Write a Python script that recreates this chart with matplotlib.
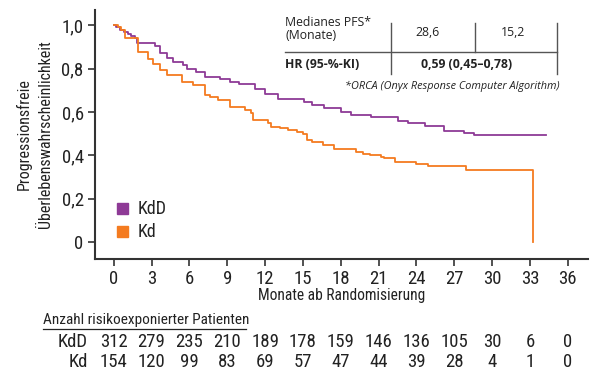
import matplotlib
matplotlib.use("Agg")
import matplotlib.pyplot as plt
from matplotlib.lines import Line2D
from matplotlib.patches import Rectangle

plt.rcParams['font.family'] = ['Roboto Condensed', 'Roboto', 'DejaVu Sans']

# KM-Daten
kdd_t = [0, 0.2, 0.5, 0.8, 1.1, 1.4, 1.7, 1.85, 3.25, 3.65, 4.2, 4.7, 5.5, 5.8, 6.55, 7.2, 8.4,
         9.2, 9.9, 11.2, 12.0, 13.0, 15.1, 15.7, 16.7, 18.05, 18.85, 20.4, 22.5, 23.3, 24.7,
         26.2, 27.8, 28.6, 34.3]
kdd_s = [1.0, 0.99, 0.98, 0.97, 0.96, 0.95, 0.94, 0.92, 0.905, 0.87, 0.85, 0.83, 0.816, 0.80,
         0.785, 0.762, 0.754, 0.739, 0.731, 0.708, 0.685, 0.662, 0.647, 0.631, 0.616, 0.60,
         0.585, 0.575, 0.559, 0.547, 0.535, 0.513, 0.505, 0.493, 0.493]
kd_t = [0, 0.3, 0.6, 0.87, 1.9, 2.7, 3.1, 3.65, 4.2, 5.4, 6.3, 7.2, 7.6, 8.3, 9.2, 10.4, 10.9,
        11.05, 12.2, 12.5, 13.2, 13.8, 14.5, 15.0, 15.3, 15.7, 16.6, 17.5, 19.2, 19.8, 20.3,
        21.2, 21.4, 22.3, 24.0, 24.9, 27.9, 33.25, 33.25]
kd_s = [1.0, 0.99, 0.977, 0.94, 0.877, 0.846, 0.823, 0.793, 0.77, 0.739, 0.724, 0.677, 0.67,
        0.654, 0.623, 0.608, 0.593, 0.562, 0.547, 0.531, 0.524, 0.516, 0.508, 0.50, 0.47,
        0.462, 0.447, 0.427, 0.416, 0.408, 0.40, 0.393, 0.386, 0.37, 0.359, 0.35, 0.332,
        0.332, 0.0]

months = [0, 3, 6, 9, 12, 15, 18, 21, 24, 27, 30, 33, 36]
risk_kdd = [312, 279, 235, 210, 189, 178, 159, 146, 136, 105, 30, 6, 0]
risk_kd = [154, 120, 99, 83, 69, 57, 47, 44, 39, 28, 4, 1, 0]
yticks = [0, 0.2, 0.4, 0.6, 0.8, 1.0]
ytick_labels = ["0", "0,2", "0,4", "0,6", "0,8", "1,0"]

purple = "#8E3A96"
orange = "#F47B20"
dark = "#333333"
txt = "#222222"
fs = 13.5

fig = plt.figure(figsize=(6, 3.79), dpi=100)
ax = fig.add_axes([0.158, 0.3166, 0.822, 0.657])

ax.step(kdd_t, kdd_s, where="post", color=purple, lw=1.3)
ax.step(kd_t, kd_s, where="post", color=orange, lw=1.3)

ax.set_xlim(-1.5, 37.6)
ax.set_ylim(-0.078, 1.07)
ax.set_xticks(months)
ax.set_xticklabels([str(m) for m in months], fontsize=fs)
ax.set_yticks(yticks)
ax.set_yticklabels(ytick_labels, fontsize=fs)
for s in ["top", "right"]:
    ax.spines[s].set_visible(False)
for s in ["left", "bottom"]:
    ax.spines[s].set_color(dark)
    ax.spines[s].set_linewidth(1.5)
ax.tick_params(direction="out", length=5, width=1.2, color=dark, labelcolor=txt, pad=3)
ax.set_xlabel("Monate ab Randomisierung", fontsize=11.2, color=txt, labelpad=0)
ax.set_ylabel("Progressionsfreie\nÜberlebenswahrscheinlichkeit", fontsize=11.5,
              color=txt, linespacing=1.55, labelpad=6)

# Legende
for i, (lab, c) in enumerate([("KdD", purple), ("Kd", orange)]):
    ax.add_patch(Rectangle((0.045, 0.18 - i * 0.09), 0.022, 0.044, transform=ax.transAxes,
                           color=c, clip_on=False))
    ax.text(0.087, 0.2 - i * 0.09, lab, transform=ax.transAxes, fontsize=13,
            va="center", color=txt)

# Tabelle oben rechts
tf = ['Open Sans', 'DejaVu Sans']
fig.text(285 / 600, 1 - 29 / 379, "Medianes PFS*\n(Monate)", fontsize=8.8, family=tf,
         va="center", ha="left", linespacing=0.95, color=txt)
fig.text(428 / 600, 1 - 32 / 379, "28,6", fontsize=8.8, family=tf, ha="center",
         va="center", color=txt)
fig.text(513 / 600, 1 - 32 / 379, "15,2", fontsize=8.8, family=tf, ha="center",
         va="center", color=txt)
fig.text(285 / 600, 1 - 65 / 379, "HR (95-%-KI)", fontsize=8.8, family=tf, weight="bold",
         va="center", ha="left", color=txt)
fig.text(467 / 600, 1 - 65 / 379, "0,59 (0,45–0,78)", fontsize=8.8, family=tf,
         weight="bold", ha="center", va="center", color=txt)
fig.text(560 / 600, 1 - 86 / 379, "*ORCA (Onyx Response Computer Algorithm)", fontsize=7.8,
         family=tf, style="italic", ha="right", va="center", color=txt)
fig.add_artist(Line2D([285 / 600, 557 / 600], [1 - 52 / 379] * 2, color="#555555", lw=1))
for xp, y0, y1 in [(391, 23, 74), (475, 23, 52), (557, 23, 74)]:
    fig.add_artist(Line2D([xp / 600] * 2, [1 - y0 / 379, 1 - y1 / 379], color="#555555", lw=1))

# Risikotabelle
fig.text(43 / 600, 1 - 320 / 379, "Anzahl risikoexponierter Patienten", fontsize=11,
         va="center", ha="left", color=txt)
fig.add_artist(Line2D([43 / 600, 246 / 600], [1 - 329 / 379] * 2, color=txt, lw=0.9))
for yp, lab, vals in [(342, "KdD", risk_kdd), (362, "Kd", risk_kd)]:
    fig.text(88 / 600, 1 - yp / 379, lab, fontsize=fs, ha="right", va="center", color=txt)
    for m, v in zip(months, vals):
        x_fig = fig.transFigure.inverted().transform(ax.transData.transform((m, 0)))[0]
        fig.text(x_fig, 1 - yp / 379, str(v), fontsize=fs, ha="center", va="center",
                 color=txt)

fig.savefig("out.png", dpi=100)
